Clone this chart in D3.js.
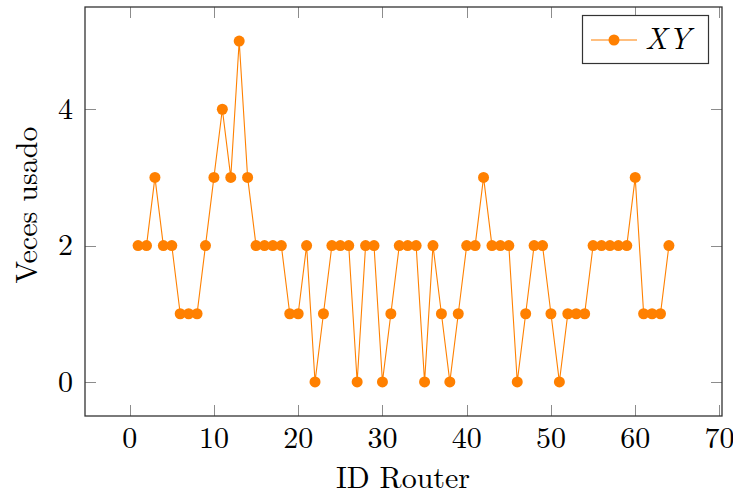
<!DOCTYPE html>
<html>
<head>
<meta charset="utf-8">
<script src="https://cdn.jsdelivr.net/npm/d3@7"></script>
<style>
  html, body { margin: 0; padding: 0; background: #fff; }
  svg { display: block; }
</style>
</head>
<body>
<svg id="chart" width="733" height="495"></svg>
<script>
// Router IDs and how many times each one was used
const routerIds = d3.range(1, 65);
const timesUsed = [
  2, 2, 3, 2, 2, 1, 1, 1, 2, 3, 4, 3, 5, 3, 2, 2,
  2, 2, 1, 1, 2, 0, 1, 2, 2, 2, 0, 2, 2, 0, 1, 2,
  2, 2, 0, 2, 1, 0, 1, 2, 2, 3, 2, 2, 2, 0, 1, 2,
  2, 1, 0, 1, 1, 1, 2, 2, 2, 2, 2, 3, 1, 1, 1, 2
];
const xTicks = [0, 10, 20, 30, 40, 50, 60, 70];
const yTicks = [0, 2, 4];
const seriesName = "XY";
const xLabel = "ID Router";
const yLabel = "Veces usado";

const points = routerIds.map((id, i) => ({ x: id, y: timesUsed[i] }));

const serif = "'Latin Modern Roman'";
const svg = d3.select("#chart");
const plot = { left: 85, right: 722, top: 7, bottom: 416 };
const orange = "#ff8000";

const x = d3.scaleLinear().domain([-5.3, 70.3]).range([plot.left, plot.right]);
const y = d3.scaleLinear().domain([-0.5, 5.5]).range([plot.bottom, plot.top]);

const tickColor = "#8c8c8c";
const tickLen = 11;

// Inner ticks on all four sides
const ticks = svg.append("g").attr("stroke", tickColor).attr("stroke-width", 1);
xTicks.forEach(t => {
  const px = Math.round(x(t)) + 0.5;
  ticks.append("line").attr("x1", px).attr("x2", px).attr("y1", plot.bottom).attr("y2", plot.bottom - tickLen);
  ticks.append("line").attr("x1", px).attr("x2", px).attr("y1", plot.top).attr("y2", plot.top + tickLen);
});
yTicks.forEach(t => {
  const py = Math.round(y(t)) + 0.5;
  ticks.append("line").attr("x1", plot.left).attr("x2", plot.left + tickLen).attr("y1", py).attr("y2", py);
  ticks.append("line").attr("x1", plot.right).attr("x2", plot.right - tickLen).attr("y1", py).attr("y2", py);
});

// Tick labels
const fs = 30;
svg.append("g").selectAll("text").data(xTicks).join("text")
  .style("font-family", serif)
  .attr("x", d => x(d)).attr("y", 448)
  .attr("text-anchor", "middle").attr("font-size", fs)
  .text(d => d);
svg.append("g").selectAll("text").data(yTicks).join("text")
  .style("font-family", serif)
  .attr("x", 73).attr("y", d => y(d)).attr("dy", "0.33em")
  .attr("text-anchor", "end").attr("font-size", fs)
  .text(d => d);

// Axis titles
svg.append("text")
  .style("font-family", serif)
  .attr("x", 403).attr("y", 488)
  .attr("text-anchor", "middle").attr("font-size", fs)
  .text(xLabel);
svg.append("text")
  .style("font-family", serif)
  .attr("transform", `translate(37,205) rotate(-90)`)
  .attr("text-anchor", "middle").attr("font-size", fs)
  .text(yLabel);

// Data line and markers
const line = d3.line().x(d => x(d.x)).y(d => y(d.y));
svg.append("path").datum(points)
  .attr("d", line).attr("fill", "none")
  .attr("stroke", orange).attr("stroke-width", 1.1);
svg.append("g").selectAll("circle").data(points).join("circle")
  .attr("cx", d => x(d.x)).attr("cy", d => y(d.y)).attr("r", 5.5)
  .attr("fill", orange);

// Frame
svg.append("rect")
  .attr("x", plot.left).attr("y", plot.top)
  .attr("width", plot.right - plot.left).attr("height", plot.bottom - plot.top)
  .attr("fill", "none").attr("stroke", "#333").attr("stroke-width", 1.3);

// Legend
const lg = svg.append("g");
lg.append("rect").attr("x", 582.5).attr("y", 15.5).attr("width", 126).attr("height", 48)
  .attr("fill", "#fff").attr("stroke", "#333").attr("stroke-width", 1.2);
lg.append("line").attr("x1", 591).attr("x2", 637).attr("y1", 40).attr("y2", 40)
  .attr("stroke", orange).attr("stroke-width", 1.1);
lg.append("circle").attr("cx", 614).attr("cy", 40).attr("r", 5.5).attr("fill", orange);
lg.append("text").attr("x", 645).attr("y", 49)
  .style("font-family", serif)
  .attr("font-size", fs).attr("font-style", "italic")
  .attr("letter-spacing", 1)
  .text(seriesName);
</script>
</body>
</html>
